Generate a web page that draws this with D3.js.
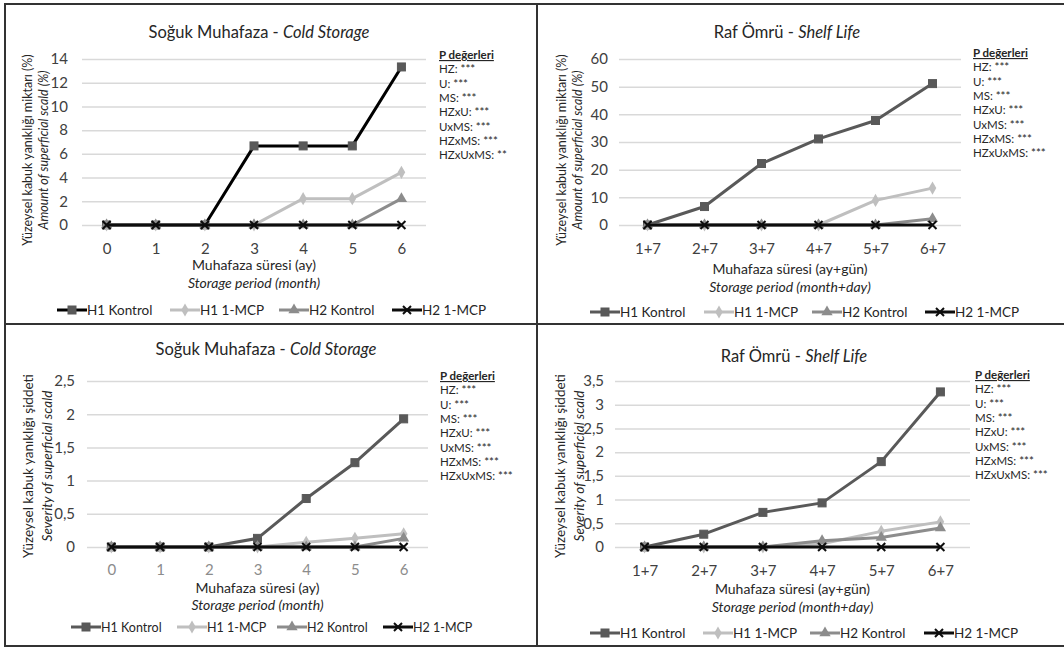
<!DOCTYPE html>
<html>
<head>
<meta charset="utf-8">
<script src="https://cdn.jsdelivr.net/npm/d3@7"></script>
<style>
  body { margin: 0; background: #fff; }
  svg { font-family: Lato, "Open Sans", sans-serif; }
</style>
</head>
<body>
<svg id="fig" width="1064" height="647"></svg>
<script>
// categories
var coldMonths = ["0", "1", "2", "3", "4", "5", "6"];
var shelfMonths = ["1+7", "2+7", "3+7", "4+7", "5+7", "6+7"];
var seriesNames = ["H1 Kontrol", "H1 1-MCP", "H2 Kontrol", "H2 1-MCP"];

// amount of superficial scald (%), cold storage
var amountCold_H1K = [0, 0, 0, 6.67, 6.67, 6.67, 13.33];
var amountCold_H1M = [0, 0, 0, 0, 2.22, 2.22, 4.44];
var amountCold_H2K = [0, 0, 0, 0, 0, 0, 2.22];
var amountCold_H2M = [0, 0, 0, 0, 0, 0, 0];

// amount of superficial scald (%), shelf life
var amountShelf_H1K = [0, 6.67, 22.22, 31.11, 37.78, 51.11];
var amountShelf_H1M = [0, 0, 0, 0, 8.89, 13.33];
var amountShelf_H2K = [0, 0, 0, 0, 0, 2.22];
var amountShelf_H2M = [0, 0, 0, 0, 0, 0];

// severity, cold storage
var sevCold_H1K = [0, 0, 0, 0.13, 0.73, 1.27, 1.93];
var sevCold_H1M = [0, 0, 0, 0, 0.07, 0.13, 0.2];
var sevCold_H2K = [0, 0, 0, 0, 0, 0, 0.13];
var sevCold_H2M = [0, 0, 0, 0, 0, 0, 0];

// severity, shelf life
var sevShelf_H1K = [0, 0.27, 0.73, 0.93, 1.8, 3.27];
var sevShelf_H1M = [0, 0, 0, 0.07, 0.33, 0.53];
var sevShelf_H2K = [0, 0, 0, 0.13, 0.2, 0.4];
var sevShelf_H2M = [0, 0, 0, 0, 0, 0];

// tick values
var amountColdTicks = [0, 2, 4, 6, 8, 10, 12, 14];
var amountShelfTicks = [0, 10, 20, 30, 40, 50, 60];
var sevColdTicks = [0, 0.5, 1, 1.5, 2, 2.5];
var sevShelfTicks = [0, 0.5, 1, 1.5, 2, 2.5, 3, 3.5];

var pLabels = ["HZ", "U", "MS", "HZxU", "UxMS", "HZxMS", "HZxUxMS"];
var pCold1 = ["***", "***", "***", "***", "***", "***", "**"];
var pAll = ["***", "***", "***", "***", "***", "***", "***"];

var svg = d3.select("#fig");
var fmt = function(v) { return String(v).replace(".", ","); };

var markerTypes = ["square", "diamond", "triangle", "cross"];

function drawMarker(g, type, x, y, color) {
	if (type == "square") {
		g.append("rect").attr("x", x - 4).attr("y", y - 4).attr("width", 8).attr("height", 8)
			.attr("fill", "#595959").attr("stroke", "#595959").attr("stroke-width", 1);
	} else if (type == "diamond") {
		g.append("path").attr("d", d3.symbol(d3.symbolDiamond, 50)()).attr("transform", "translate(" + x + "," + y + ")")
			.attr("fill", color);
	} else if (type == "triangle") {
		g.append("path").attr("d", d3.symbol(d3.symbolTriangle, 55)()).attr("transform", "translate(" + x + "," + y + ")")
			.attr("fill", color);
	} else {
		g.append("path").attr("d", "M" + (x - 4) + "," + (y - 4) + "L" + (x + 4) + "," + (y + 4) + "M" + (x - 4) + "," + (y + 4) + "L" + (x + 4) + "," + (y - 4))
			.attr("stroke", color).attr("stroke-width", 2);
	}
}

function drawPanel(c) {
	var g = svg.append("g");
	var x = d3.scalePoint().domain(c.cats).range([c.x0, c.x1]).padding(0.5);
	var y = d3.scaleLinear().domain([0, c.ticks[c.ticks.length - 1]]).range([c.y0, c.yTop]);

	// gridlines
	g.append("g").attr("transform", "translate(" + c.x0 + ",0)")
		.call(d3.axisLeft(y).tickValues(c.ticks).tickSize(-(c.x1 - c.x0)).tickFormat(""))
		.call(function(s) { s.select(".domain").remove(); })
		.selectAll("line").attr("stroke", "#d9d9d9").attr("stroke-width", 1.5);

	// y tick labels
	g.append("g").attr("transform", "translate(" + c.x0 + ",0)")
		.call(d3.axisLeft(y).tickValues(c.ticks).tickSize(0).tickPadding(c.yPad).tickFormat(fmt))
		.call(function(s) { s.select(".domain").remove(); })
		.selectAll("text").attr("font-size", 15).attr("fill", "#404040").attr("font-family", "Lato, sans-serif");

	// x tick labels
	g.append("g").attr("transform", "translate(0," + c.y0 + ")")
		.call(d3.axisBottom(x).tickSize(0).tickPadding(c.xPad))
		.call(function(s) { s.select(".domain").remove(); })
		.selectAll("text").attr("font-size", 15).attr("fill", c.xTickColor).attr("font-family", "Lato, sans-serif");

	// series lines
	var line = d3.line().x(function(d, i) { return x(c.cats[i]); }).y(function(d) { return y(d); });
	c.series.forEach(function(s, k) {
		g.append("path").datum(s).attr("d", line).attr("fill", "none")
			.attr("stroke", c.colors[k]).attr("stroke-width", 3).attr("stroke-linejoin", "round");
		s.forEach(function(v, i) { drawMarker(g, markerTypes[k], x(c.cats[i]), y(v), c.colors[k]); });
	});

	// title
	var t = g.append("text").attr("x", c.titleX).attr("y", c.titleY).attr("text-anchor", "middle")
		.attr("font-size", 16.5).attr("fill", "#262626");
	t.append("tspan").text(c.title[0]);
	t.append("tspan").attr("font-style", "italic").text(c.title[1]);

	// y titles
	var cy = (c.y0 + c.yTop) / 2 + c.yTitleShift;
	g.append("text").attr("transform", "translate(" + c.yt1 + "," + cy + ") rotate(-90)")
		.attr("text-anchor", "middle").attr("dominant-baseline", "central")
		.attr("font-size", c.yTitleSize).attr("fill", "#262626").text(c.yTitle[0]);
	g.append("text").attr("transform", "translate(" + c.yt2 + "," + cy + ") rotate(-90)")
		.attr("text-anchor", "middle").attr("dominant-baseline", "central")
		.attr("font-size", c.yTitleSize).attr("font-style", "italic").attr("fill", "#262626").text(c.yTitle[1]);

	// x titles
	var xc = (c.x0 + c.x1) / 2;
	g.append("text").attr("x", xc).attr("y", c.xt1).attr("text-anchor", "middle").attr("dominant-baseline", "central")
		.attr("font-size", 14).attr("fill", "#262626").text(c.xTitle[0]);
	g.append("text").attr("x", xc).attr("y", c.xt2).attr("text-anchor", "middle").attr("dominant-baseline", "central")
		.attr("font-size", 14).attr("font-style", "italic").attr("fill", "#262626").text(c.xTitle[1]);

	// legend
	c.legendX.forEach(function(lx, k) {
		g.append("line").attr("x1", lx).attr("x2", lx + 30).attr("y1", c.legendY).attr("y2", c.legendY)
			.attr("stroke", c.colors[k]).attr("stroke-width", 3);
		drawMarker(g, markerTypes[k], lx + 15, c.legendY, c.colors[k]);
		g.append("text").attr("x", lx + 30).attr("y", c.legendY).attr("dominant-baseline", "central")
			.attr("font-size", c.legendSize).attr("fill", "#262626").text(seriesNames[k]);
	});

	// P values
	g.append("text").attr("x", c.pX).attr("y", c.pY).attr("font-size", 11.5).attr("font-weight", "bold")
		.attr("text-decoration", "underline").attr("fill", "#262626").text("P değerleri");
	pLabels.forEach(function(lbl, i) {
		g.append("text").attr("x", c.pX).attr("y", c.pY + 14.3 * (i + 1)).attr("font-size", 11.5)
			.attr("fill", "#262626").text(lbl + ": " + c.pVals[i]);
	});
}

var cols = ["#595959", "#bfbfbf", "#8c8c8c", "#0d0d0d"];

drawPanel({
	cats: coldMonths, ticks: amountColdTicks, x0: 82, x1: 426, y0: 225, yTop: 59, yPad: 14, xPad: 18,
	xTickColor: "#404040",
	series: [amountCold_H1K, amountCold_H1M, amountCold_H2K, amountCold_H2M],
	colors: ["#000000", cols[1], cols[2], cols[3]],
	title: ["Soğuk Muhafaza - ", "Cold Storage"], titleX: 259, titleY: 38,
	yTitle: ["Yüzeysel kabuk yanıklığı miktarı (%)", "Amount of superficial scald (%)"], yt1: 27, yt2: 43, yTitleShift: 8, yTitleSize: 12.5,
	xTitle: ["Muhafaza süresi (ay)", "Storage period (month)"], xt1: 264, xt2: 282,
	legendX: [57, 170, 279, 392], legendY: 310, legendSize: 13.5,
	pX: 439, pY: 59, pVals: pCold1
});

drawPanel({
	cats: shelfMonths, ticks: amountShelfTicks, x0: 619, x1: 961, y0: 225, yTop: 59, yPad: 11, xPad: 18,
	xTickColor: "#404040",
	series: [amountShelf_H1K, amountShelf_H1M, amountShelf_H2K, amountShelf_H2M],
	colors: cols,
	title: ["Raf Ömrü - ", "Shelf Life"], titleX: 787, titleY: 38,
	yTitle: ["Yüzeysel kabuk yanıklığı miktarı (%)", "Amount of superficial scald (%)"], yt1: 561, yt2: 577, yTitleShift: 8, yTitleSize: 12.5,
	xTitle: ["Muhafaza süresi (ay+gün)", "Storage period (month+day)"], xt1: 268, xt2: 286,
	legendX: [590, 704, 812, 925], legendY: 312, legendSize: 13.5,
	pX: 973, pY: 57, pVals: pAll
});

drawPanel({
	cats: coldMonths, ticks: sevColdTicks, x0: 87, x1: 428, y0: 547, yTop: 381, yPad: 12, xPad: 17,
	xTickColor: "#8c8c8c",
	series: [sevCold_H1K, sevCold_H1M, sevCold_H2K, sevCold_H2M],
	colors: cols,
	title: ["Soğuk Muhafaza - ", "Cold Storage"], titleX: 266, titleY: 355,
	yTitle: ["Yüzeysel kabuk yanıklığı şiddeti", "Severity of superficial scald"], yt1: 28, yt2: 47, yTitleShift: 2, yTitleSize: 13.5,
	xTitle: ["Muhafaza süresi (ay)", "Storage period (month)"], xt1: 587, xt2: 604,
	legendX: [71, 177, 277, 383], legendY: 627, legendSize: 12.5,
	pX: 440, pY: 380, pVals: pAll
});

drawPanel({
	cats: shelfMonths, ticks: sevShelfTicks, x0: 615, x1: 970, y0: 547, yTop: 381, yPad: 11, xPad: 18,
	xTickColor: "#404040",
	series: [sevShelf_H1K, sevShelf_H1M, sevShelf_H2K, sevShelf_H2M],
	colors: cols,
	title: ["Raf Ömrü - ", "Shelf Life"], titleX: 794, titleY: 362,
	yTitle: ["Yüzeysel kabuk yanıklığı şiddeti", "Severity of superficial scald"], yt1: 560, yt2: 579, yTitleShift: 2, yTitleSize: 13.5,
	xTitle: ["Muhafaza süresi (ay+gün)", "Storage period (month+day)"], xt1: 588, xt2: 606,
	legendX: [590, 703, 810, 924], legendY: 633, legendSize: 13.5,
	pX: 975, pY: 379, pVals: pAll
});

// frame and dividers
svg.append("rect").attr("x", 5).attr("y", 4).attr("width", 1064).attr("height", 642)
	.attr("fill", "none").attr("stroke", "#333").attr("stroke-width", 2);
svg.append("line").attr("x1", 537).attr("x2", 537).attr("y1", 4).attr("y2", 646).attr("stroke", "#333").attr("stroke-width", 2);
svg.append("line").attr("x1", 5).attr("x2", 1064).attr("y1", 324).attr("y2", 324).attr("stroke", "#333").attr("stroke-width", 2);
</script>
</body>
</html>
